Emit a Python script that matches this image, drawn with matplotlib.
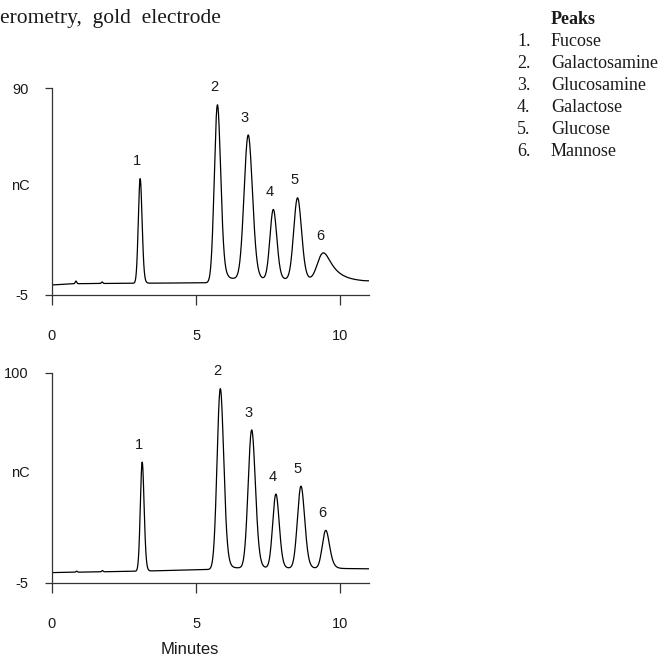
import matplotlib

matplotlib.use("Agg")
import matplotlib.pyplot as plt
import numpy as np

plt.rcParams["axes.unicode_minus"] = False

# peak table (apex time in min, height above baseline in nC)
PEAK_LABELS = ["1", "2", "3", "4", "5", "6"]
PEAK_NAMES = ["Fucose", "Galactosamine", "Glucosamine", "Galactose", "Glucose", "Mannose"]

TOP_TIMES = [3.06, 5.74, 6.81, 7.68, 8.52, 9.42]
TOP_HEIGHTS = [48.0, 81.0, 66.0, 32.0, 37.5, 12.5]
TOP_SIGMAS = [0.06, 0.10, 0.135, 0.11, 0.125, 0.16]
TOP_TAILS = [0.03, 0.06, 0.06, 0.05, 0.06, 0.35]
TOP_MINOR_TIMES = [0.83, 1.74]
TOP_MINOR_HEIGHTS = [1.2, 0.7]
TOP_BASE_TIMES = [0.0, 0.8, 3.0, 5.55, 6.1, 9.0, 11.0]
TOP_BASE_LEVELS = [-0.4, 0.2, 0.4, 0.6, 2.6, 2.0, 1.2]

BOTTOM_TIMES = [3.13, 5.84, 6.93, 7.77, 8.64, 9.50]
BOTTOM_HEIGHTS = [54.5, 90.0, 69.0, 37.0, 41.0, 19.0]
BOTTOM_SIGMAS = [0.06, 0.105, 0.115, 0.105, 0.115, 0.11]
BOTTOM_TAILS = [0.03, 0.06, 0.06, 0.05, 0.06, 0.08]
BOTTOM_MINOR_TIMES = [0.85, 1.75]
BOTTOM_MINOR_HEIGHTS = [0.5, 0.6]
BOTTOM_BASE_TIMES = [0.0, 3.0, 5.6, 6.1, 9.0, 11.0]
BOTTOM_BASE_LEVELS = [0.2, 0.9, 1.8, 2.6, 2.4, 2.1]

TOP_YTICKS = [-5, 90]
BOTTOM_YTICKS = [-5, 100]
XTICKS = [0, 5, 10]

W, H = 664, 658
SANS = "Liberation Sans"
SERIF = "Liberation Serif"
INK = "#1a1a1a"


def peak(t, rt, h, sigma, tau):
    g = np.exp(-0.5 * ((t - rt) / sigma) ** 2)
    if tau > 0:
        dt = t[1] - t[0]
        kernel = np.exp(-np.arange(0, 8 * tau, dt) / tau)
        g = np.convolve(g, kernel)[: len(t)]
    shift = t[np.argmax(g)] - rt
    g = np.interp(t + shift, t, g)
    return h * g / g.max()


def trace(t, times, heights, sigmas, tails, minor_t, minor_h, base_t, base_y):
    y = np.interp(t, base_t, base_y)
    for rt, h, s, tau in zip(times, heights, sigmas, tails):
        y += peak(t, rt, h, s, tau)
    for rt, h in zip(minor_t, minor_h):
        y += peak(t, rt, h, 0.025, 0)
    return y


def draw_panel(fig, rect, y, t, times, yticks, ylabel_frac):
    ax = fig.add_axes(rect)
    ax.plot(t, y, color="black", lw=0.9)
    ax.set_xlim(0, 11)
    ax.set_ylim(yticks[0], yticks[-1])
    ax.set_xticks(XTICKS)
    ax.set_yticks(yticks)
    ax.spines["top"].set_visible(False)
    ax.spines["right"].set_visible(False)
    for side in ("left", "bottom"):
        ax.spines[side].set_linewidth(0.9)
        ax.spines[side].set_color("#333333")
    ax.tick_params(axis="x", length=7.5, width=0.9, pad=17, labelsize=10.5, color="#333333")
    ax.tick_params(axis="y", length=5, width=0.9, pad=12, labelsize=10.5, color="#333333")
    for lab in ax.get_xticklabels() + ax.get_yticklabels():
        lab.set_fontfamily(SANS)
        lab.set_color(INK)
    ax.text(-0.1, ylabel_frac, "nC", transform=ax.transAxes, ha="center", va="center",
            fontsize=10.5, family=SANS, color=INK)

    for lab, rt in zip(PEAK_LABELS, times):
        apex = np.interp(rt, t, y)
        ax.annotate(lab, (rt, apex), xytext=(-2.5, 12.5), textcoords="offset points",
                    ha="center", va="center", fontsize=10.5, family=SANS, color=INK)
    return ax


def main():
    t = np.linspace(0, 11, 4401)
    top = trace(t, TOP_TIMES, TOP_HEIGHTS, TOP_SIGMAS, TOP_TAILS,
                TOP_MINOR_TIMES, TOP_MINOR_HEIGHTS, TOP_BASE_TIMES, TOP_BASE_LEVELS)
    bottom = trace(t, BOTTOM_TIMES, BOTTOM_HEIGHTS, BOTTOM_SIGMAS, BOTTOM_TAILS,
                   BOTTOM_MINOR_TIMES, BOTTOM_MINOR_HEIGHTS, BOTTOM_BASE_TIMES, BOTTOM_BASE_LEVELS)

    fig = plt.figure(figsize=(W / 100, H / 100), dpi=100)

    x0, x1 = 52 / W, 369 / W
    draw_panel(fig, [x0, 1 - 295 / H, x1 - x0, (295 - 88) / H], top, t, TOP_TIMES, TOP_YTICKS, 0.527)
    draw_panel(fig, [x0, 1 - 583 / H, x1 - x0, (583 - 373) / H], bottom, t, BOTTOM_TIMES, BOTTOM_YTICKS, 0.525)

    fig.text(190 / W, 1 - 649 / H, "Minutes", ha="center", va="center",
             fontsize=12, family=SANS, color=INK)

    fig.text(0, 1 - 18 / H, "erometry,  gold  electrode", ha="left", va="center",
             fontsize=15.5, family=SERIF, color=INK)

    fig.text(551 / W, 1 - 19 / H, "Peaks", ha="left", va="center",
             fontsize=13, family=SERIF, weight="bold", color=INK)
    for i, name in enumerate(PEAK_NAMES):
        yy = 1 - (41 + 22.2 * i) / H
        fig.text(517 / W, yy, f"{i + 1}.", ha="left", va="center",
                 fontsize=13, family=SERIF, color=INK)
        fig.text(551 / W, yy, name, ha="left", va="center",
                 fontsize=13, family=SERIF, color=INK)

    fig.savefig("out.png", dpi=100)
    plt.close(fig)


if __name__ == "__main__":
    main()
